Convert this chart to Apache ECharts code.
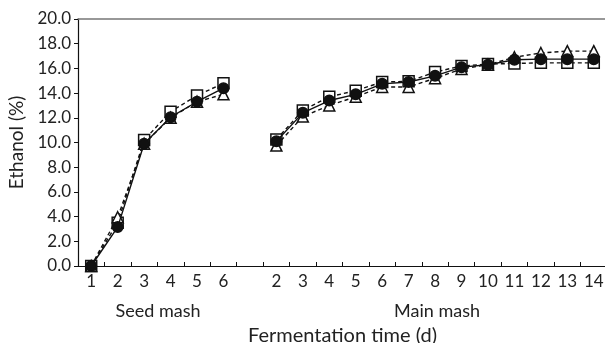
<!DOCTYPE html>
<html><head><meta charset="utf-8">
<script src="https://cdn.jsdelivr.net/npm/echarts@6/dist/echarts.min.js"></script>
<style>html,body{margin:0;padding:0;background:#fff}#c{width:605px;height:343px}</style>
</head><body><div id="c"></div>
<script>
const seedDays = ['1','2','3','4','5','6'];
const mainDays = ['2','3','4','5','6','7','8','9','10','11','12','13','14'];
const yTicks = [0,2,4,6,8,10,12,14,16,18,20];
// filled circles (solid line)
const seedCircle = [0, 3.15, 9.9, 12.05, 13.3, 14.4];
const mainCircle = [10.1, 12.4, 13.4, 13.9, 14.75, 14.9, 15.4, 16.1, 16.3, 16.7, 16.75, 16.75, 16.75];
// open squares (dashed line)
const seedSquare = [0, 3.5, 10.2, 12.5, 13.8, 14.8];
const mainSquare = [10.25, 12.6, 13.7, 14.2, 14.9, 14.95, 15.7, 16.2, 16.35, 16.4, 16.45, 16.45, 16.45];
// open triangles (dashed line)
const seedTriangle = [0, 3.95, 9.9, 12.0, 13.3, 13.9];
const mainTriangle = [9.75, 12.1, 13.0, 13.7, 14.5, 14.5, 15.2, 15.95, 16.3, 16.9, 17.25, 17.4, 17.4];

const categories = seedDays.concat([''], mainDays);
function combine(a, b){ return a.concat([null], b); }

const FONT = 'Lato';
const TXT = '#222';
const chart = echarts.init(document.getElementById('c'), null, {renderer:'canvas'});
const dash = [4,3];
function mk(name, data, symbol, size, filled, solid, z){
  return {
    name, type:'line', data, symbol, symbolSize:size, connectNulls:false, z,
    lineStyle:{color:'#111', width:1.4, type: solid ? 'solid' : dash},
    itemStyle:{color: filled ? '#111' : '#fff', borderColor:'#111', borderWidth:1.5},
    emphasis:{disabled:true}, animation:false
  };
}
chart.setOption({
  animation:false,
  grid:{left:78, top:19, width:529, height:247, containLabel:false, outerBoundsMode:'none'},
  xAxis:[{
    type:'category', data:categories, boundaryGap:true,
    axisLine:{lineStyle:{color:'#111', width:1.2}},
    axisTick:{show:true, inside:true, length:4, interval:0, lineStyle:{color:'#111'}},
    axisLabel:{interval:0, color:TXT, fontFamily:FONT, fontSize:17, margin:7},
    name:'Fermentation time (d)', nameLocation:'middle', nameGap:60,
    nameTextStyle:{color:TXT, fontFamily:FONT, fontSize:20}
  },{
    type:'category', data:categories, position:'top',
    axisLine:{lineStyle:{color:'#777', width:1.5}},
    axisTick:{show:false}, axisLabel:{show:false}
  }],
  yAxis:{
    type:'value', min:0, max:20, interval:2,
    axisLine:{show:true, lineStyle:{color:'#111', width:1.2}},
    axisTick:{show:true, inside:false, length:4, lineStyle:{color:'#111'}},
    splitLine:{show:false},
    axisLabel:{color:TXT, fontFamily:FONT, fontSize:17, margin:7,
      formatter:v => yTicks.includes(v) ? v.toFixed(1) : ''},
    name:'Ethanol (%)', nameLocation:'middle', nameGap:48, nameRotate:90,
    nameTextStyle:{color:TXT, fontFamily:FONT, fontSize:19}
  },
  graphic:[
    {type:'text', style:{text:'Seed mash', x:158, y:311, fill:TXT, font:'18px Lato', textAlign:'center', textVerticalAlign:'middle'}},
    {type:'text', style:{text:'Main mash', x:437, y:311, fill:TXT, font:'18px Lato', textAlign:'center', textVerticalAlign:'middle'}}
  ],
  series:[
    mk('square', combine(seedSquare, mainSquare), 'rect', 11, false, false, 2),
    mk('triangle', combine(seedTriangle, mainTriangle), 'triangle', 11, false, false, 3),
    mk('circle', combine(seedCircle, mainCircle), 'circle', 10.5, true, true, 4)
  ]
});
</script></body></html>
